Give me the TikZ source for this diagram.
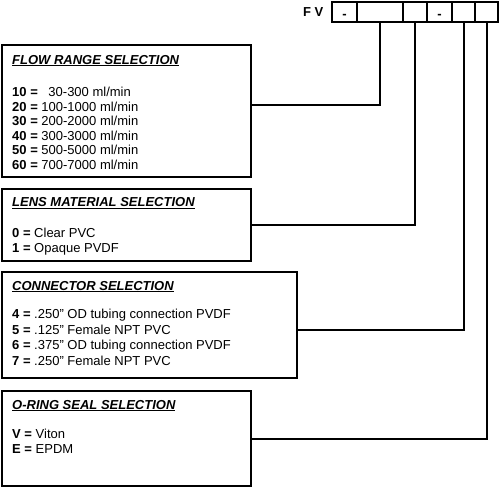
\documentclass[tikz,border=0pt]{standalone}
\usepackage{fontspec}
\setmainfont{Liberation Sans}
\usetikzlibrary{positioning}

\begin{document}
\begin{tikzpicture}[x=1pt,y=-1pt,
  selbox/.style={draw, line width=2, rectangle, inner sep=0, outer sep=0, anchor=north west},
  cellbox/.style={draw, line width=2, rectangle, inner sep=0, outer sep=0, minimum height=20},
  headtext/.style={anchor=base west, inner sep=0, font=\fontsize{13}{15}\selectfont\bfseries\itshape},
  bodytext/.style={anchor=base west, inner sep=0, font=\fontsize{13}{15}\selectfont},
  lead/.style={line width=2}]
\useasboundingbox (0,0) rectangle (500,487);

% code strip
\node[cellbox, minimum width=25] (c1) at (344.5,12) {};
\node[cellbox, minimum width=46, right=0pt of c1] (c2) {};
\node[cellbox, minimum width=24, right=0pt of c2] (c3) {};
\node[cellbox, minimum width=25, right=0pt of c3] (c4) {};
\node[cellbox, minimum width=23, right=0pt of c4] (c5) {};
\node[cellbox, minimum width=23, right=0pt of c5] (c6) {};
\node[anchor=base west, inner sep=0, font=\fontsize{13}{15}\selectfont\bfseries] (fv) at (303,17) {F V};
\node[anchor=base, inner sep=0, font=\fontsize{13}{15}\selectfont\bfseries] (d1) at (c1 |- 0,18.5) {-};
\node[anchor=base, inner sep=0, font=\fontsize{13}{15}\selectfont\bfseries] (d4) at (c4 |- 0,18.5) {-};

% flow range
\node[selbox, minimum width=249.5, minimum height=132] (flowbox) at (1.5,45) {};
\node[headtext] (flowhead) at (12,64) {\underline{FLOW RANGE SELECTION}};
\node[bodytext] (f10) at (12,96.5) {\textbf{10 =} \hspace{7pt}30-300 ml/min};
\node[bodytext] (f20) at (12,111) {\textbf{20 =} 100-1000 ml/min};
\node[bodytext] (f30) at (12,125.5) {\textbf{30 =} 200-2000 ml/min};
\node[bodytext] (f40) at (12,140) {\textbf{40 =} 300-3000 ml/min};
\node[bodytext] (f50) at (12,154.5) {\textbf{50 =} 500-5000 ml/min};
\node[bodytext] (f60) at (12,169) {\textbf{60 =} 700-7000 ml/min};

% lens material
\node[selbox, minimum width=249.5, minimum height=72] (lensbox) at (1.5,189) {};
\node[headtext] (lenshead) at (12,206.5) {\underline{LENS MATERIAL SELECTION}};
\node[bodytext] (l0) at (12,237) {\textbf{0 =} Clear PVC};
\node[bodytext] (l1) at (12,252) {\textbf{1 =} Opaque PVDF};

% connector
\node[selbox, minimum width=295.5, minimum height=106] (connbox) at (1.5,272) {};
\node[headtext] (connhead) at (12,290) {\underline{CONNECTOR SELECTION}};
\node[bodytext] (k4) at (12,318.5) {\textbf{4 =} .250" OD tubing connection PVDF};
\node[bodytext] (k5) at (12,334) {\textbf{5 =} .125" Female NPT PVC};
\node[bodytext] (k6) at (12,349.5) {\textbf{6 =} .375" OD tubing connection PVDF};
\node[bodytext] (k7) at (12,365) {\textbf{7 =} .250" Female NPT PVC};

% o-ring seal
\node[selbox, minimum width=249.5, minimum height=95] (sealbox) at (1.5,391) {};
\node[headtext] (sealhead) at (12,409) {\underline{O-RING SEAL SELECTION}};
\node[bodytext] (sv) at (12,438) {\textbf{V =} Viton};
\node[bodytext] (se) at (12,453) {\textbf{E =} EPDM};

% leads
\draw[lead] ([yshift=6pt]flowbox.east) -| (c2.south);
\draw[lead] (lensbox.east) -| (c3.south);
\draw[lead] ([yshift=-5pt]connbox.east) -| (c5.south);
\draw[lead] (sealbox.east) -| (c6.south);
\end{tikzpicture}
\end{document}
